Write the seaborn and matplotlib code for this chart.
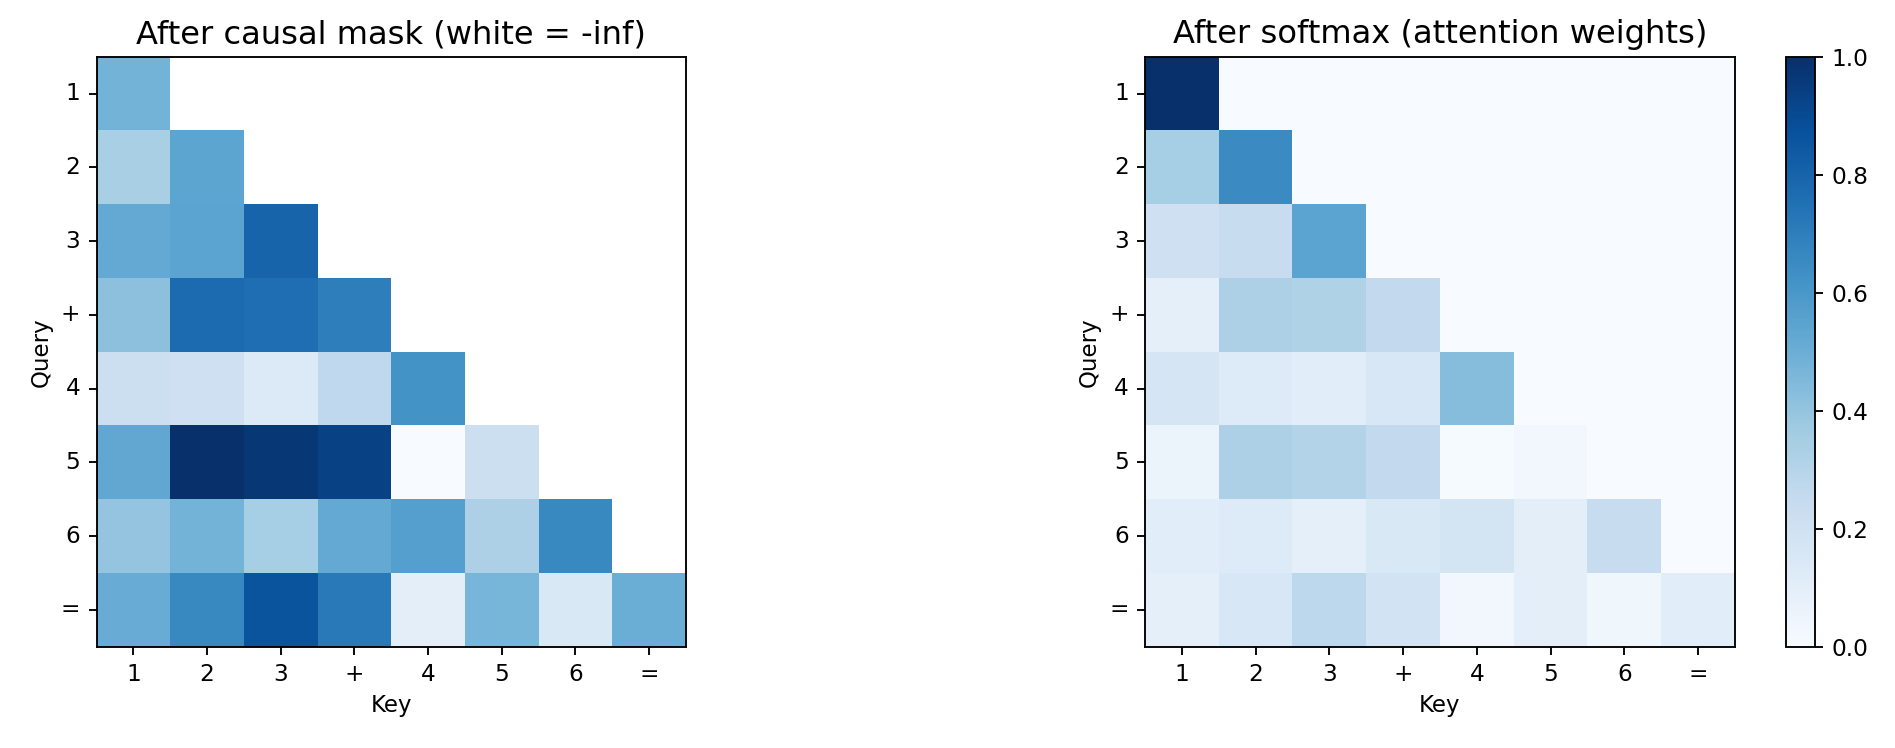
import numpy as np
import pandas as pd
import matplotlib
matplotlib.use('Agg')
import matplotlib.pyplot as plt
import seaborn as sns

tokens = ['1', '2', '3', '+', '4', '5', '6', '=']

# masked scores (colour intensity, NaN = masked)
nan = np.nan
scores = [
    [0.48, nan, nan, nan, nan, nan, nan, nan],
    [0.34, 0.54, nan, nan, nan, nan, nan, nan],
    [0.52, 0.55, 0.80, nan, nan, nan, nan, nan],
    [0.42, 0.77, 0.76, 0.70, nan, nan, nan, nan],
    [0.22, 0.21, 0.14, 0.27, 0.62, nan, nan, nan],
    [0.53, 1.00, 0.97, 0.93, 0.00, 0.22, nan, nan],
    [0.40, 0.48, 0.35, 0.52, 0.57, 0.33, 0.66, nan],
    [0.51, 0.66, 0.86, 0.72, 0.10, 0.47, 0.15, 0.50],
]

# attention weights after softmax
weights = [
    [1.00, 0, 0, 0, 0, 0, 0, 0],
    [0.35, 0.65, 0, 0, 0, 0, 0, 0],
    [0.21, 0.24, 0.55, 0, 0, 0, 0, 0],
    [0.09, 0.33, 0.32, 0.26, 0, 0, 0, 0],
    [0.17, 0.13, 0.11, 0.16, 0.43, 0, 0, 0],
    [0.06, 0.33, 0.31, 0.26, 0.01, 0.03, 0, 0],
    [0.11, 0.13, 0.09, 0.15, 0.18, 0.10, 0.24, 0],
    [0.09, 0.16, 0.28, 0.19, 0.03, 0.10, 0.04, 0.11],
]

df_scores = pd.DataFrame(scores, index=tokens, columns=tokens)
df_weights = pd.DataFrame(weights, index=tokens, columns=tokens)

fig = plt.figure(figsize=(1895 / 150, 748 / 150), dpi=150)
ax1 = fig.add_axes([0.051, 0.1354, 0.311, 0.7888])
ax2 = fig.add_axes([0.6042, 0.1354, 0.3113, 0.7888])
cax = fig.add_axes([0.9425, 0.1354, 0.0153, 0.7888])

sns.heatmap(df_scores, ax=ax1, cmap='Blues', cbar=False)
sns.heatmap(df_weights, ax=ax2, cmap='Blues', vmin=0, vmax=1, cbar_ax=cax)

for ax, title in [(ax1, 'After causal mask (white = -inf)'),
                  (ax2, 'After softmax (attention weights)')]:
    ax.set_title(title, fontsize=15.4, pad=6.5)
    ax.set_xlabel('Key', fontsize=11, labelpad=4)
    ax.set_ylabel('Query', fontsize=11, labelpad=4)
    for s in ax.spines.values():
        s.set_visible(True)
        s.set_linewidth(0.9)
    ax.tick_params(axis='both', length=3.9, width=0.9, labelsize=11.2, pad=3.9)
    ax.set_yticklabels(tokens, rotation=0)
    ax.set_xticklabels(tokens, rotation=0)

cb = ax2.collections[0].colorbar
cb.outline.set_visible(True)
cb.outline.set_linewidth(0.9)
cb.set_ticks([0.0, 0.2, 0.4, 0.6, 0.8, 1.0])
cax.tick_params(labelsize=11.2, length=3.9, width=0.9, pad=3.9)

fig.savefig('out.png', dpi=150)
